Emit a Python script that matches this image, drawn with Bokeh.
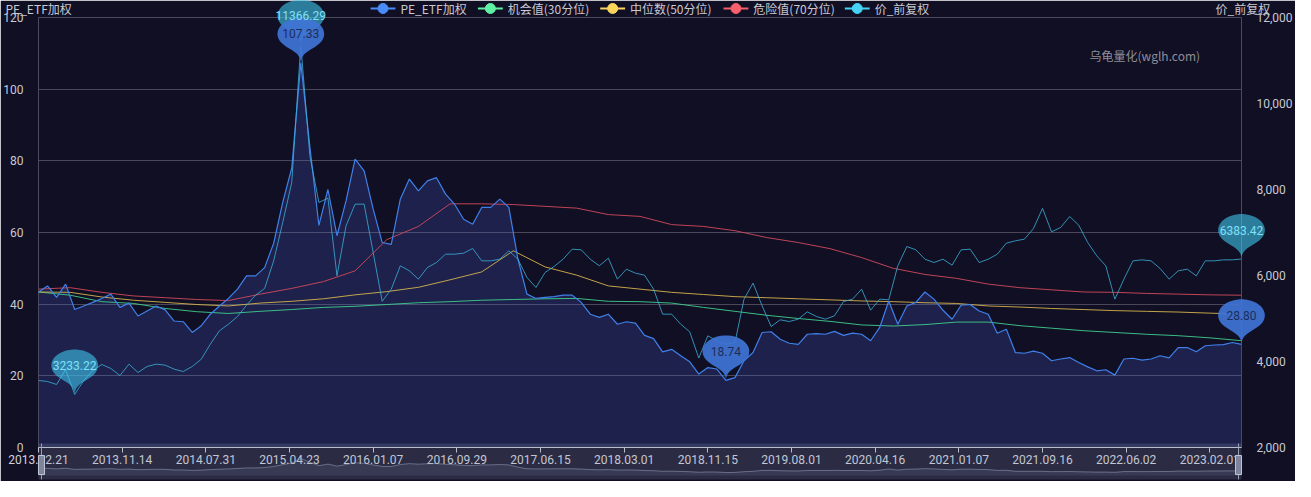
import numpy as np
from bokeh.plotting import figure
from bokeh.models import Range1d, LinearAxis, FixedTicker, NumeralTickFormatter, Grid, Label
from bokeh.core.properties import value
from bokeh.embed import file_html
from bokeh.resources import INLINE

# ---------------- data ----------------
tick_labels = ["2013.02.21", "2013.11.14", "2014.07.31", "2015.04.23", "2016.01.07",
               "2016.09.29", "2017.06.15", "2018.03.01", "2018.11.15", "2019.08.01",
               "2020.04.16", "2021.01.07", "2021.09.16", "2022.06.02", "2023.02.01"]
LABEL_EVERY = 37        # weeks between x labels
LAST_WEEK = 532         # index of the last weekly point
STEP = 4                # weeks between readings of PE / price
PCT_STEP = 14           # weeks between readings of percentile lines

pe_etf = [43.4, 45.1, 41.9, 45.6, 38.5, 39.5, 40.5, 41.6, 42.8, 39.1,
          40.3, 36.7, 38.1, 39.5, 38.4, 35.3, 35.1, 32.1, 34.0, 37.2,
          39.5, 41.6, 44.2, 47.9, 47.9, 50.2, 57.0, 68.4, 78.0, 107.33,
          84.0, 62.0, 72.0, 59.1, 68.8, 80.5, 77.2, 66.5, 57.2, 56.7,
          69.3, 74.9, 71.6, 74.4, 75.3, 70.7, 67.9, 63.7, 62.3, 67.0,
          67.0, 69.3, 67.0, 52.6, 42.8, 41.6, 41.9, 42.1, 42.5, 42.5,
          40.5, 37.2, 36.3, 37.2, 34.4, 35.1, 34.7, 31.3, 30.4, 26.7,
          27.4, 25.6, 23.9, 20.5, 22.3, 21.9, 18.74, 19.5, 24.2, 26.5,
          32.1, 32.3, 30.2, 29.1, 28.8, 31.6, 31.8, 31.6, 32.4, 31.3,
          31.9, 31.6, 29.8, 33.5, 40.9, 34.4, 39.5, 40.5, 43.4, 41.4,
          38.3, 35.8, 39.7, 39.9, 38.1, 37.2, 31.9, 33.0, 26.5, 26.3,
          26.9, 26.3, 24.2, 24.7, 25.1, 23.7, 22.5, 21.4, 21.7, 20.2,
          24.7, 24.9, 24.4, 24.7, 25.6, 25.0, 27.9, 27.9, 26.7, 28.4,
          28.6, 28.7, 29.3, 28.80]

price_fq = [3558, 3535, 3465, 3814, 3233.22, 3558, 3791, 3930, 3837, 3674,
            3938, 3744, 3884, 3938, 3915, 3822, 3767, 3884, 4054, 4403,
            4713, 4868, 5047, 5310, 5543, 5698, 6341, 7233, 8163, 11366.29,
            8783, 7698, 7800, 5992, 7155, 7659, 7659, 6535, 5400, 5682,
            6225, 6109, 5915, 6186, 6302, 6496, 6496, 6519, 6628, 6341,
            6341, 6380, 6574, 6380, 5953, 5721, 6070, 6209, 6380, 6612,
            6597, 6380, 6225, 6403, 5915, 6147, 6054, 6008, 5682, 5101,
            5101, 4868, 4690, 4080, 4597, 4481, 4403, 4442, 5450, 5822,
            5295, 4814, 4969, 4930, 4985, 5155, 5047, 4985, 5062, 5395,
            5450, 5682, 5194, 5450, 5434, 6225, 6674, 6597, 6380, 6302,
            6380, 6240, 6597, 6612, 6302, 6380, 6496, 6752, 6806, 6845,
            7093, 7560, 7016, 7116, 7372, 7171, 6767, 6457, 6225, 5450,
            5915, 6341, 6364, 6341, 6163, 5915, 6109, 6147, 5992, 6341,
            6341, 6364, 6364, 6383.42]

pct30 = [43.4, 42.5, 40.7, 40.2, 38.8, 37.9, 37.4, 38.0, 38.5, 39.1,
         39.4, 39.9, 40.4, 40.7, 41.1, 41.3, 41.5, 41.6, 40.8, 40.7,
         40.3, 39.1, 38.0, 36.9, 36.0, 35.2, 34.2, 33.9, 34.3, 35.0,
         35.0, 34.0, 33.3, 32.6, 32.1, 31.6, 31.2, 30.6, 29.8]
pct50 = [43.4, 43.3, 42.0, 41.1, 40.5, 39.9, 39.5, 40.3, 40.8, 41.5,
         42.6, 43.5, 44.7, 46.8, 49.0, 54.9, 50.4, 48.1, 45.1, 44.2,
         43.3, 42.7, 42.1, 41.8, 41.5, 41.2, 40.9, 40.7, 40.4, 40.2,
         39.5, 39.2, 38.8, 38.5, 38.2, 38.0, 37.8, 37.5, 37.2]
pct70 = [44.2, 44.6, 43.3, 42.3, 41.8, 41.3, 41.0, 42.8, 44.4, 46.3,
         49.3, 58.0, 61.7, 68.0, 68.0, 67.8, 67.3, 66.8, 65.0, 64.5,
         62.2, 61.7, 60.5, 58.6, 57.2, 55.5, 53.0, 50.0, 48.3, 47.2,
         45.6, 44.6, 44.0, 43.4, 43.3, 43.0, 42.8, 42.6, 42.5]

series_names = ["PE_ETF加权", "机会值(30分位)", "中位数(50分位)", "危险值(70分位)", "价_前复权"]
legend_colors = ["#4a8cf7", "#5ff0a4", "#fbd45c", "#f5606c", "#46d2f5"]
left_title, right_title, watermark = "PE_ETF加权", "价_前复权", "乌龟量化(wglh.com)"

pe = np.array(pe_etf, dtype=float)
price = np.array(price_fq, dtype=float)
x_main = np.arange(len(pe)) * STEP
x_pct = np.arange(len(pct30)) * PCT_STEP

# ---------------- layout ----------------
W, H = 1295, 481
FRAME_L, FRAME_R, FRAME_T, FRAME_B = 33, 1243, 17, 447
PE_TOP, PRICE_BASE, PRICE_TOP = 120, 2000, 12000
pe_px = (FRAME_B - FRAME_T) / PE_TOP
price_px = (FRAME_B - FRAME_T) / (PRICE_TOP - PRICE_BASE)
x_px = (FRAME_R - FRAME_L) / LAST_WEEK

def pe_units(px_below_axis):          # screen offset below the x axis -> PE units
    return -px_below_axis / pe_px

def x_units(px_from_left):            # screen x in the figure -> week units
    return (px_from_left - FRAME_L) / x_px

BG = "#110f24"
TXT = "#c9c9d2"
GRID = "#4a4858"
NUM_FONT = value("Roboto")
CJK_FONT = "Noto Sans CJK SC"

p = figure(width=W, height=H, output_backend="svg", toolbar_location=None,
           x_range=Range1d(0, LAST_WEEK), y_range=Range1d(0, PE_TOP),
           x_axis_location=None, y_axis_location=None,
           min_border_left=FRAME_L, min_border_right=W - FRAME_R,
           min_border_top=FRAME_T, min_border_bottom=H - FRAME_B,
           background_fill_color=BG, border_fill_color=BG, outline_line_color=None)
p.grid.visible = False
p.extra_y_ranges = {"price": Range1d(PRICE_BASE, PRICE_TOP)}

pe_ticks = list(range(0, PE_TOP + 1, 20))
price_ticks = list(range(PRICE_BASE, PRICE_TOP + 1, 2000))
x_ticks = [i * LABEL_EVERY for i in range(len(tick_labels))]

p.add_layout(Grid(dimension=1, ticker=FixedTicker(ticks=pe_ticks[1:]),
                  grid_line_color=GRID, grid_line_width=1))

axis_style = dict(axis_line_color=None, major_tick_line_color=None, minor_tick_line_color=None,
                  major_label_standoff=9, major_label_text_color=TXT,
                  major_label_text_font="Roboto", major_label_text_font_size="12px")
p.add_layout(LinearAxis(ticker=FixedTicker(ticks=pe_ticks), **axis_style), "left")
p.add_layout(LinearAxis(y_range_name="price", ticker=FixedTicker(ticks=price_ticks),
                        formatter=NumeralTickFormatter(format="0,0"), **axis_style), "right")

xa = LinearAxis(ticker=FixedTicker(ticks=x_ticks),
                major_label_overrides={t: s for t, s in zip(x_ticks, tick_labels)},
                major_tick_in=0, major_tick_out=5, major_label_standoff=2,
                axis_line_color="#c8c8d0", major_tick_line_color="#c8c8d0",
                minor_tick_line_color=None, major_label_text_color="#d4d4dc",
                major_label_text_font="Roboto", major_label_text_font_size="12px")
p.add_layout(xa, "below")

# ---- series ----
p.varea(x=x_main, y1=0, y2=pe, fill_color="#4a62d8", fill_alpha=0.22)
p.line(x_pct, pct30, line_color="#3fcf8e", line_width=1, line_alpha=0.9)
p.line(x_pct, pct50, line_color="#d6b44c", line_width=1, line_alpha=0.9)
p.line(x_pct, pct70, line_color="#d24a5c", line_width=1, line_alpha=0.9)
p.line(x_main, pe, line_color="#3f80ea", line_width=1.2)
p.line(x_main, price, y_range_name="price", line_color="#3cb0d8", line_width=1, line_alpha=0.8)

# ---- data-zoom slider under the axis (drawn from the PE data) ----
sl_top, sl_bot = pe_units(-4), pe_units(32)
p.quad(left=0, right=LAST_WEEK, bottom=sl_bot, top=sl_top,
       fill_color="#8894b8", fill_alpha=0.22, line_color=None, level="overlay")
mini_base = pe_units(28)
mini = mini_base + pe / pe.max() * (17 / pe_px)
p.varea(x=x_main, y1=mini_base, y2=mini, fill_color="#9aa6c8", fill_alpha=0.12, level="overlay")
p.line(x_main, mini, line_color="#a4aecb", line_alpha=0.6, line_width=0.8, level="overlay")
hx = 3 / x_px
p.segment(x0=[hx, LAST_WEEK - hx], x1=[hx, LAST_WEEK - hx], y0=sl_bot, y1=sl_top,
          line_color="#9aa0b8", line_width=1, level="overlay")
p.rect(x=[hx, LAST_WEEK - hx], y=pe_units(17.5), width=6, height=19,
       width_units="screen", height_units="screen",
       fill_color="#7d849c", line_color="#c3c7d4", line_width=1, level="overlay")

# ---- mark points (pins) ----
def pin_outline():
    a, b, cy = 23.5, 16.0, 29.0
    phi = np.linspace(np.deg2rad(215), np.deg2rad(-35), 30)
    ax, ay = a * np.cos(phi), cy + b * np.sin(phi)
    p0 = np.array([ax[-1], ay[-1]])
    c1 = p0 + np.array([-7.2, -7.0])
    c2 = np.array([0.0, 11.0])
    p3 = np.array([0.0, 0.0])
    t = np.linspace(0, 1, 12)[1:][:, None]
    bez = (1 - t) ** 3 * p0 + 3 * (1 - t) ** 2 * t * c1 + 3 * (1 - t) * t ** 2 * c2 + t ** 3 * p3
    left = bez[::-1][1:] * np.array([-1, 1])
    return (np.concatenate([ax, bez[:, 0], left[:, 0]]),
            np.concatenate([ay, bez[:, 1], left[:, 1]]))

PIN_DX, PIN_DY = pin_outline()

def pin_shapes(xs, ys, py, color, alpha, rname=None):
    kw = {} if rname is None else {"y_range_name": rname}
    p.patches([list(x + PIN_DX / x_px) for x in xs], [list(y + PIN_DY / py) for y in ys],
              fill_color=color, fill_alpha=alpha, line_color=None, level="overlay", **kw)

def pin_texts(xs, ys, tcolor, rname=None):
    kw = {} if rname is None else {"y_range_name": rname}
    p.text(x=list(xs), y=list(ys), text=[f"{v:.2f}" for v in ys], y_offset=-29,
           text_align="center", text_baseline="middle", text_color=tcolor,
           text_font=NUM_FONT, text_font_size="12px", level="overlay", **kw)

pe_idx = [int(np.argmax(pe)), int(np.argmin(pe)), len(pe) - 1]
pr_idx = [int(np.argmax(price)), int(np.argmin(price)), len(price) - 1]
pin_shapes(x_main[pr_idx], price[pr_idx], price_px, "#40c4ec", 0.6, "price")
pin_shapes(x_main[pe_idx], pe[pe_idx], pe_px, "#3f74d6", 0.92)
pin_texts(x_main[pr_idx], price[pr_idx], "#7fe0f8", "price")
pin_texts(x_main[pe_idx], pe[pe_idx], "#1e2c5a")

# ---- legend above the frame (line + dot + label per series) ----
LEG_GLYPH_LEFT = [367, 475, 598, 722, 844]   # screen x of each legend glyph
LEG_GLYPH_W, LEG_STANDOFF = 25, 5
leg_y = PE_TOP + (FRAME_T - 8) / pe_px       # legend row sits 8 px below the figure top
gl = np.array([x_units(v) for v in LEG_GLYPH_LEFT])
gr = np.array([x_units(v + LEG_GLYPH_W) for v in LEG_GLYPH_LEFT])
p.segment(x0=gl, x1=gr, y0=leg_y, y1=leg_y, line_color=legend_colors, line_width=2, level="overlay")
p.scatter(x=(gl + gr) / 2, y=[leg_y] * len(gl), marker="circle", size=10,
          fill_color=legend_colors, line_color=legend_colors, level="overlay")
p.text(x=gr, y=[leg_y] * len(gl), text=series_names, x_offset=LEG_STANDOFF,
       text_align="left", text_baseline="middle", text_color=TXT,
       text_font=value(CJK_FONT), text_font_size="12px", level="overlay")

# ---- axis titles and watermark ----
p.text(x=[0, LAST_WEEK], y=[PE_TOP, PE_TOP], text=[left_title, right_title],
       x_offset=[-FRAME_L, -26], y_offset=-9, text_align="left", text_baseline="middle",
       text_color=TXT, text_font=value(CJK_FONT), text_font_size="12px", level="overlay")
p.add_layout(Label(x=1084 - FRAME_L, y=FRAME_B - FRAME_T - 38, x_units="screen", y_units="screen",
                   text=watermark, text_color="#8e8e98", text_font=CJK_FONT,
                   text_font_size="12px", text_baseline="middle", text_align="left"))

open("out.html", "w").write(file_html(p, INLINE))
